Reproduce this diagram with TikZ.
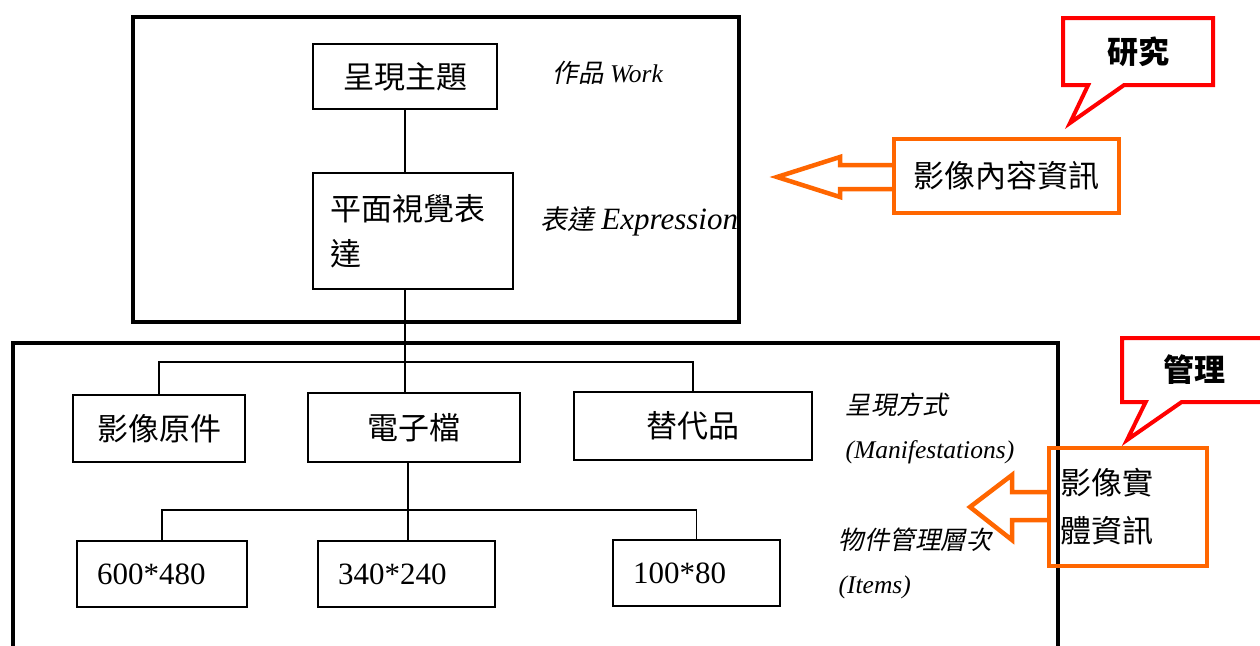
\documentclass[tikz,border=0pt]{standalone}
\usepackage{fontspec}
\setmainfont{Liberation Serif}
\newfontfamily\cjk{Noto Sans CJK TC}
\newfontfamily\cjkit{Noto Sans CJK TC}[FakeSlant=0.2]
\usetikzlibrary{shapes.callouts}
\definecolor{naranja}{HTML}{FF6600}

\newcommand{\grande}{\fontsize{31}{45}\selectfont}
\newcommand{\medio}{\fontsize{25.5}{30}\selectfont}

\begin{document}
\begin{tikzpicture}[x=1pt, y=-1pt, line width=1.3pt,
                  caja/.style={draw, line width=1.5pt, inner sep=0pt, font=\grande\cjk},
                  numero/.style={draw, line width=1.5pt, minimum height=66, inner xsep=20,
                  align=left, font=\grande},
                  etiqueta/.style={anchor=west, inner sep=0pt, font=\medio\itshape},
                  marco/.style={draw, line width=3.2pt},
                  globo/.style={rectangle callout, draw=red, line width=4pt, inner sep=0pt,
                  font=\grande\cjk\bfseries, callout pointer width=36},
                  info/.style={draw=naranja, line width=4.5pt, inner sep=0pt, font=\grande\cjk},
                  flecha/.style={draw=naranja, line width=4.5pt, line join=miter}]

                  \useasboundingbox (0,0) rectangle (1260,645);

                  % Marcos de los dos niveles.
                  \draw[marco] (133,17) rectangle (739,322);
                  \draw[marco] (13,665) -- (13,343) -- (1058,343) -- (1058,665);

                  % Cajas del nivel superior.
                  \node[caja, minimum width=184, minimum height=65] (tema) at (405,76.5) {呈現主題};
                  \node[caja, minimum width=200, minimum height=116, text width=165, align=left]
                  (plano) at (413,231) {平面視覺表\\達};

                  % Cajas de las manifestaciones.
                  \node[caja, minimum width=172, minimum height=67] (original) at (159,428.5) {影像原件};
                  \node[caja, minimum width=212, minimum height=69] (digital) at (414,427.5) {電子檔};
                  \node[caja, minimum width=238, minimum height=68] (sustituto) at (693,426) {替代品};

                  % Cajas de los items.
                  \node[numero, text width=130] (n600) at (162,574) {600*480};
                  \node[numero, text width=137] (n340) at (406.5,574) {340*240};
                  \node[numero, text width=127] (n100) at (696.5,573) {100*80};

                  % Conexiones entre las cajas.
                  \coordinate (nodo1) at (405,362);
                  \coordinate (nodo2) at (408,510);
                  \draw (tema.south) -- (tema.south |- plano.north)
                  (tema.south |- plano.south) -- (tema.south |- digital.north);
                  \draw (original.north) -- (original.north |- nodo1)
                  -- (sustituto.north |- nodo1) -- (sustituto.north);
                  \draw (nodo2 |- digital.south) -- (nodo2 |- n340.north);
                  \draw (n600.north) -- (n600.north |- nodo2)
                  -- (n100.north |- nodo2) -- (n100.north);

                  % Etiquetas de los niveles.
                  \node[etiqueta] (obra) at (552,73) {{\cjkit 作品} Work};
                  \node[etiqueta, font=\fontsize{27}{30}\selectfont\itshape] (expresion) at (540,221)
                  {{\cjkit 表達} {\fontsize{31}{30}\selectfont Expression}};
                  \node[etiqueta] (manif) at (845,405) {{\cjkit 呈現方式}};
                  \node[etiqueta] (manifen) at (845,452) {(Manifestations)};
                  \node[etiqueta] (objeto) at (838,540) {{\cjkit 物件管理層次}};
                  \node[etiqueta] (objetoen) at (838,587) {(Items)};

                  % Cajas naranjas con sus flechas.
                  \node[info, minimum width=225, minimum height=74] (contenido) at (1006.5,176) {影像內容資訊};
                  \node[info, minimum width=158, minimum height=118, text width=136, inner xsep=11,
                  align=left, font=\fontsize{31}{48}\selectfont\cjk] (fisico) at (1128,507) {影像實\\體資訊};
                  \draw[flecha] (894,165) -- (840,165) -- (840,157) -- (777,177)
                  -- (840,197) -- (840,189) -- (894,189);
                  \draw[flecha] (1049,492) -- (1012,492) -- (1012,475) -- (970,507)
                  -- (1012,540) -- (1012,520) -- (1049,520);

                  % Globos rojos.
                  \node[globo, minimum width=150, minimum height=67,
                  callout absolute pointer={(1070,123)}] (investigacion) at (1138,51.5) {研究};
                  \node[globo, minimum width=145, minimum height=64,
                  callout absolute pointer={(1127,440)}] (gestion) at (1194.5,370) {管理};

                \end{tikzpicture}
\end{document}
